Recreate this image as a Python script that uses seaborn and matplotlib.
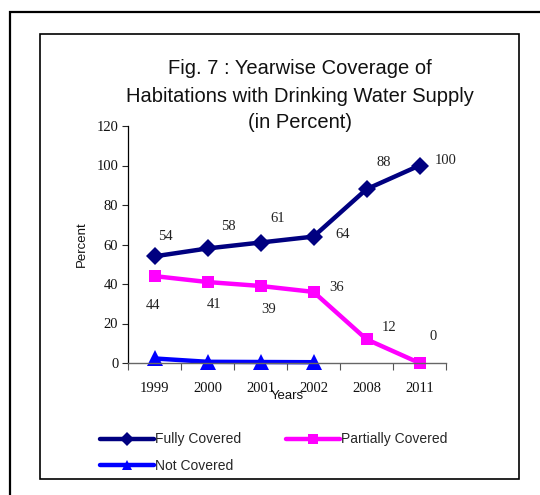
import matplotlib
matplotlib.use("Agg")
import matplotlib.pyplot as plt
from matplotlib.lines import Line2D
from matplotlib.patches import Rectangle
import numpy as np
import pandas as pd
import seaborn as sns

# Data
years = ["1999", "2000", "2001", "2002", "2008", "2011"]
fully_covered = [54, 58, 61, 64, 88, 100]
partially_covered = [44, 41, 39, 36, 12, 0]
not_covered = [2.3, 0.6, 0.5, 0.4, np.nan, np.nan]
y_ticks = [0, 20, 40, 60, 80, 100, 120]

series_names = ["Fully Covered", "Partially Covered", "Not Covered"]
series_values = [fully_covered, partially_covered, not_covered]

# Label offsets (pixels) for the value annotations
fully_offsets = [(11, 20), (21, 22), (17, 24), (29, 2), (17, 27), (26, 5)]
partial_offsets = [(-1, -29), (7, -22), (8, -24), (23, 4), (23, 12), (14, 27)]

frames = []
for name, vals in zip(series_names, series_values):
    frames.append(pd.DataFrame({"Year": years, "Percent": vals, "Series": name}))
df = pd.concat(frames, ignore_index=True)

sns.set_theme(style="white")
plt.rcParams["font.family"] = ["Liberation Sans", "DejaVu Sans"]

fig = plt.figure(figsize=(5.4, 4.95), dpi=100)
W, H = 540, 495


def fx(x):
    return x / W


def fy(y):
    return 1 - y / H


# Frames around the chart
fig.patches.append(Rectangle((fx(10), fy(560)), fx(600), fy(12) - fy(560),
                             transform=fig.transFigure, fill=False,
                             edgecolor="black", linewidth=1.6))
fig.patches.append(Rectangle((fx(40), fy(479)), fx(519) - fx(40), fy(34) - fy(479),
                             transform=fig.transFigure, fill=False,
                             edgecolor="black", linewidth=1.2))

ax = fig.add_axes([fx(128), fy(363), fx(446) - fx(128), fy(126) - fy(363)])
ax.set_facecolor("none")

palette = {"Fully Covered": "#000080", "Partially Covered": "#FF00FF",
           "Not Covered": "#0000FF"}
markers = {"Fully Covered": "D", "Partially Covered": "s", "Not Covered": "^"}
marker_sizes = {"Fully Covered": 9, "Partially Covered": 9, "Not Covered": 11}

for name in series_names:
    sub = df[df["Series"] == name]
    sns.lineplot(data=sub, x="Year", y="Percent", color=palette[name],
                 marker=markers[name], markersize=marker_sizes[name],
                 markeredgewidth=0, linewidth=3.2, ax=ax, sort=False,
                 legend=False, clip_on=False)

ax.set_xlim(-0.5, len(years) - 0.5)
ax.set_ylim(0, 120)
ax.set_yticks(y_ticks)
ax.set_yticklabels([str(t) for t in y_ticks], family="Liberation Serif",
                   fontsize=10.5, color="#111111")

# Category ticks at boundaries, labels at centres
ax.set_xticks(np.arange(-0.5, len(years), 1.0))
ax.set_xticklabels([])
ax.set_xticks(np.arange(len(years)), minor=True)
ax.set_xticklabels(years, minor=True, family="Liberation Serif", fontsize=10.5,
                   color="#111111")
ax.tick_params(axis="x", which="major", length=5, width=0.8, color="#555555",
               direction="out", bottom=True)
ax.tick_params(axis="x", which="minor", length=0, pad=14)
ax.tick_params(axis="y", length=4, width=0.8, direction="out", left=True, pad=3)

for side in ["top", "right"]:
    ax.spines[side].set_visible(False)
ax.spines["left"].set_color("black")
ax.spines["left"].set_linewidth(0.9)
ax.spines["bottom"].set_color("#666666")
ax.spines["bottom"].set_linewidth(1.0)

ax.set_xlabel("Years", fontsize=9.5, labelpad=-4, color="#111111")
ax.set_ylabel("Percent", fontsize=9.5, labelpad=6, color="#111111")

# Value labels
for i, (v, off) in enumerate(zip(fully_covered, fully_offsets)):
    ax.annotate(str(v), (i, v), xytext=off, textcoords="offset pixels",
                ha="center", va="center", family="Liberation Serif",
                fontsize=10.5, color="#222222")
for i, (v, off) in enumerate(zip(partially_covered, partial_offsets)):
    ax.annotate(str(v), (i, v), xytext=off, textcoords="offset pixels",
                ha="center", va="center", family="Liberation Serif",
                fontsize=10.5, color="#222222")

# Title
title_lines = ["Fig. 7 : Yearwise Coverage of",
               "Habitations with Drinking Water Supply",
               "(in Percent)"]
for line, y in zip(title_lines, [68, 96, 123]):
    fig.text(fx(300), fy(y), line, ha="center", va="center", fontsize=14.5,
             color="#111111")

# Legend: rows read Fully / Partially, then Not Covered
legend_order = ["Fully Covered", "Not Covered", "Partially Covered"]
handles = [Line2D([], [], color=palette[n], marker=markers[n], linewidth=3.2,
                  markersize=7, markeredgewidth=0) for n in legend_order]
fig.legend(handles, legend_order, loc="upper left",
           bbox_to_anchor=(fx(87), fy(420)), ncol=2, frameon=False,
           fontsize=10, handlelength=3.9, handletextpad=0.1,
           columnspacing=3.2, labelspacing=0.9)

fig.savefig("out.png", dpi=100)
